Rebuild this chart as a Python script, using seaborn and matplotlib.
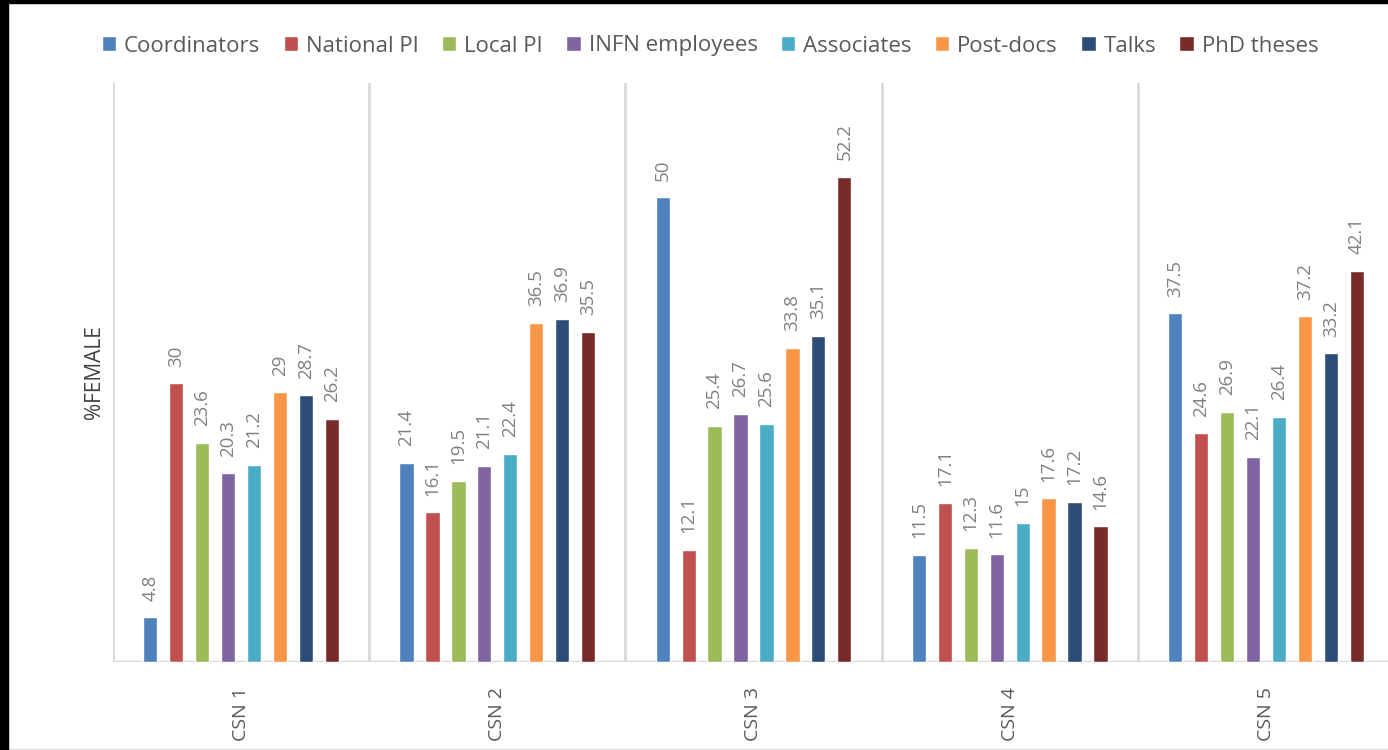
import pandas as pd
import matplotlib
matplotlib.use('Agg')
import matplotlib.pyplot as plt
import seaborn as sns
from matplotlib.patches import Rectangle

# Datos
grupos = ['CSN 1', 'CSN 2', 'CSN 3', 'CSN 4', 'CSN 5']
series = ['Coordinators', 'National PI', 'Local PI', 'INFN employees',
          'Associates', 'Post-docs', 'Talks', 'PhD theses']
coordinators = [4.8, 21.4, 50, 11.5, 37.5]
national_pi = [30, 16.1, 12.1, 17.1, 24.6]
local_pi = [23.6, 19.5, 25.4, 12.3, 26.9]
infn_employees = [20.3, 21.1, 26.7, 11.6, 22.1]
associates = [21.2, 22.4, 25.6, 15, 26.4]
post_docs = [29, 36.5, 33.8, 17.6, 37.2]
talks = [28.7, 36.9, 35.1, 17.2, 33.2]
phd_theses = [26.2, 35.5, 52.2, 14.6, 42.1]

colores = ['#4F81BD', '#C0504D', '#9BBB59', '#8064A2',
           '#4BACC6', '#F79646', '#2C4D75', '#772C2A']


def main():
    sns.set_theme(style="white")
    plt.rcParams['font.family'] = ['Open Sans', 'DejaVu Sans']

    valores = [coordinators, national_pi, local_pi, infn_employees,
               associates, post_docs, talks, phd_theses]
    filas = []
    for serie, vals in zip(series, valores):
        for g, v in zip(grupos, vals):
            filas.append({'Grupo': g, 'Serie': serie, 'Valor': v})
    df = pd.DataFrame(filas)

    fig = plt.figure(figsize=(13.88, 7.5), dpi=100)
    ax = fig.add_axes([113 / 1388, 88 / 750, (1394 - 113) / 1388, (662 - 83) / 750])

    sns.barplot(data=df, x='Grupo', y='Valor', hue='Serie', order=grupos,
                hue_order=series, palette=colores, width=0.81, gap=0.45,
                saturation=1, ax=ax)

    ax.set_xlim(-0.5, len(grupos) - 0.5)
    ax.set_ylim(0, 62.3)

    # Etiquetas de valor
    for cont, vals in zip(ax.containers, valores):
        ax.bar_label(cont, labels=[f'{v:g}' for v in vals], rotation=90,
                     padding=12, color='#808080', fontsize=13.5)

    # Separadores verticales y linea base
    for x in [i - 0.5 for i in range(len(grupos) + 1)]:
        ax.axvline(x, color='#d9d9d9', lw=2, zorder=0)
    ax.axhline(0, color='#d9d9d9', lw=2.5, zorder=0)

    for s in ax.spines.values():
        s.set_visible(False)
    ax.set_yticks([])
    ax.set_xlabel('')
    ax.set_ylabel('%FEMALE', fontsize=15, color='#404040', labelpad=6)
    ax.tick_params(axis='x', length=0, pad=18, labelsize=14, labelcolor='#595959')
    plt.setp(ax.get_xticklabels(), rotation=90)

    # Leyenda arriba
    handles, labels = ax.get_legend_handles_labels()
    ax.get_legend().remove()
    fig.legend(handles, labels, loc='center', ncol=8,
               bbox_to_anchor=(710 / 1388, 1 - 46 / 750), frameon=False,
               fontsize=16, labelcolor='#595959', handlelength=0.65,
               handleheight=0.65, handletextpad=0.35, columnspacing=1.05)

    # Borde negro de la captura
    fig.patches.append(Rectangle((0, 0), 8 / 1388, 1, transform=fig.transFigure,
                                 color='black', zorder=10))
    fig.patches.append(Rectangle((0, 1 - 3 / 750), 1, 3 / 750, transform=fig.transFigure,
                                 color='black', zorder=10))
    fig.patches.append(Rectangle((8 / 1388, 0), 1, 1 - 3 / 750, transform=fig.transFigure,
                                 fill=False, edgecolor='#d9d9d9', lw=1.5, zorder=9))

    fig.savefig('out.png', dpi=100)
    plt.close(fig)


if __name__ == "__main__":
    main()
